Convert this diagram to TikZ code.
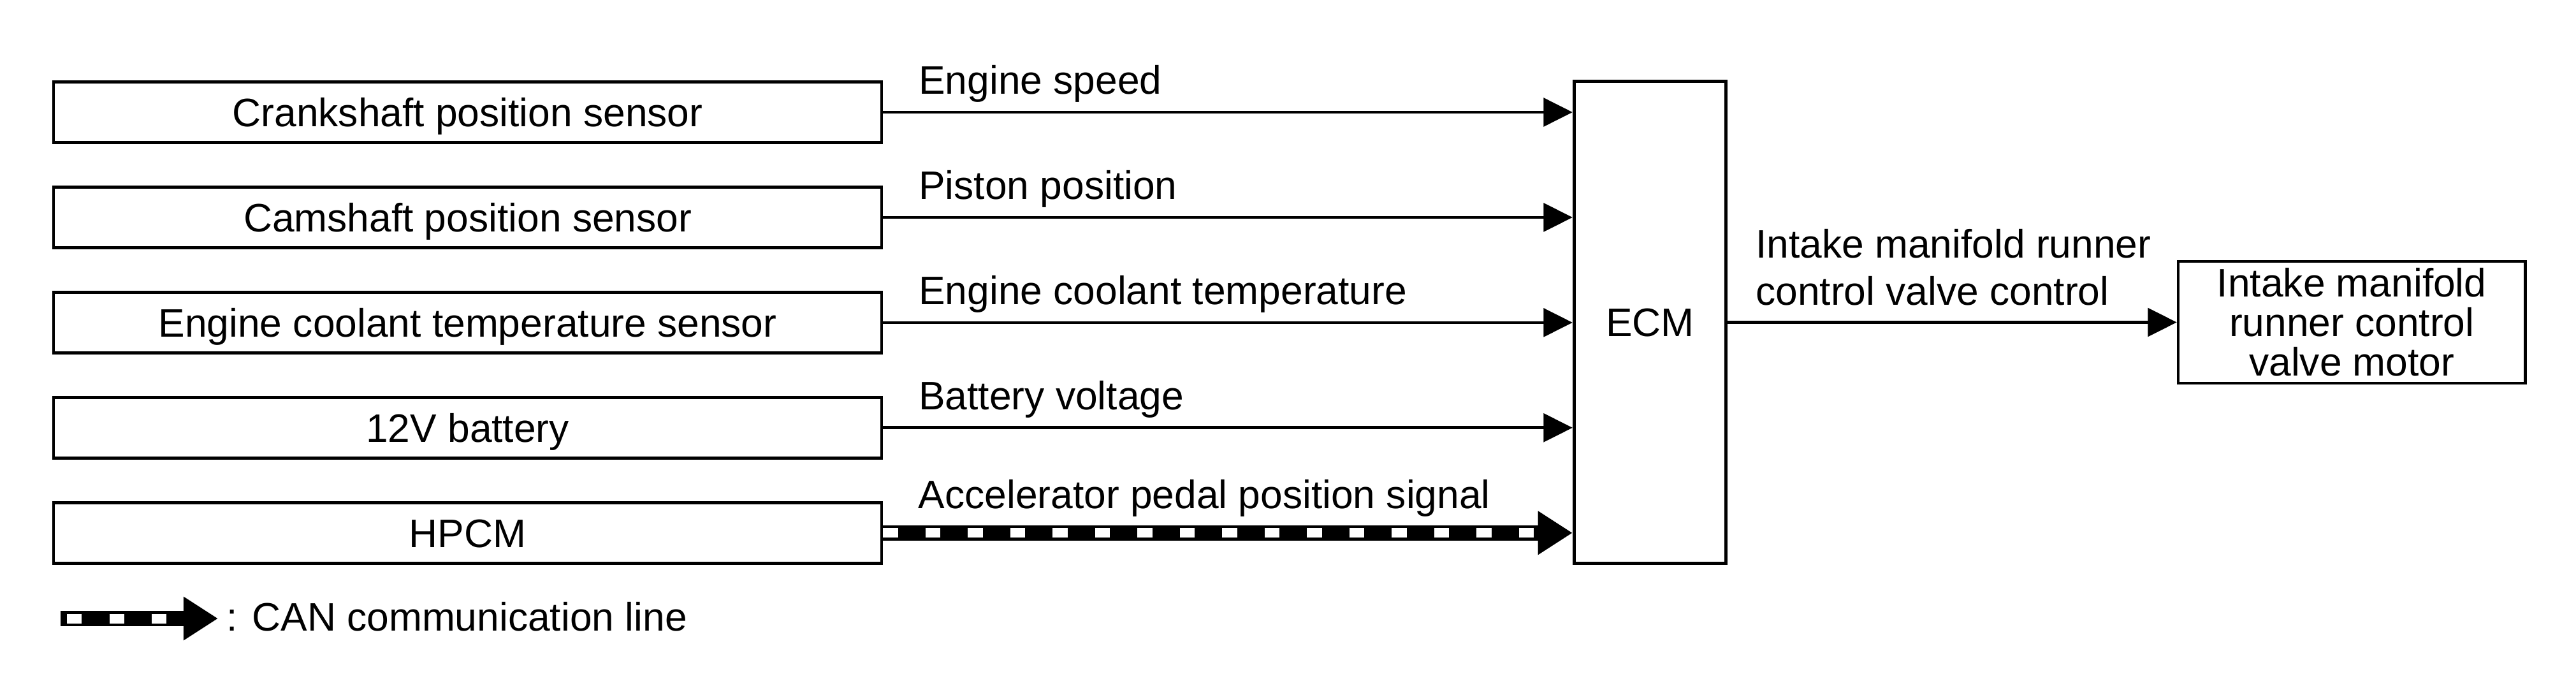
\documentclass[tikz,border=0pt]{standalone}
\usepackage{fontspec}
\setmainfont{Liberation Sans}
\usepackage{tikz}
\usetikzlibrary{arrows.meta}
\newcommand{\diafont}{\fontsize{17.2pt}{17.1pt}\selectfont}
\tikzstyle{sensor} = [rectangle, minimum width=12.6cm, minimum height=0.92cm, text height=12.3pt, text depth=0pt, inner sep=0pt, text centered, draw=black, line width=1.3pt, font=\diafont]
\tikzstyle{ecu} = [rectangle, minimum width=2.31cm, minimum height=7.33cm, text height=12.3pt, text depth=0pt, inner sep=0pt, text centered, draw=black, line width=1.3pt, font=\diafont]
\tikzstyle{actuator} = [rectangle, minimum width=5.28cm, minimum height=1.85cm, inner sep=0pt, align=center, draw=black, line width=1.3pt, font=\diafont]
\tikzstyle{signal} = [pos=0, anchor=base west, inner sep=0pt, xshift=5.2mm, yshift=2.72mm, font=\diafont]
\tikzstyle{arrow} = [line width=1.3pt, -{Triangle[length=4.4mm, width=4.3mm]}]
\tikzstyle{canbar} = [line width=2.33mm, -{Triangle[length=5.25mm, width=6.3mm]}]
\tikzstyle{candash} = [draw=white, line width=1.45mm, dash pattern=on 2.25mm off 4.2mm]

\begin{document}
\begin{tikzpicture}[x=0.25mm, y=-0.25mm, node distance=1.6cm]
		\useasboundingbox (0,0) rectangle (1568,422.6);
		\node (crank) [sensor] at (284.65,68.3) {Crankshaft position sensor};
		\node (cam) [sensor, below of=crank] {Camshaft position sensor};
		\node (ect) [sensor, below of=cam] {Engine coolant temperature sensor};
		\node (batt) [sensor, below of=ect] {12V battery};
		\node (hpcm) [sensor, below of=batt] {HPCM};
		
		\node (ecm) [ecu] at (1004.3,196.15) {ECM};
		\node (motor) [actuator, right of=ecm, xshift=9.08cm] {Intake manifold\\runner control\\valve motor};
		
		\draw [arrow] (crank) -- node [signal] {Engine speed} (ecm.west |- crank);
		\draw [arrow] (cam) -- node [signal] {Piston position} (ecm.west |- cam);
		\draw [arrow] (ect) -- node [signal] {Engine coolant temperature} (ecm.west |- ect);
		\draw [arrow] (batt) -- node [signal] {Battery voltage} (ecm.west |- batt);
		
		% CAN line: black bar, white squares on top
		\draw [canbar] (hpcm) -- node [signal, xshift=-1mm, yshift=1.03mm] {Accelerator pedal position signal} (ecm.west |- hpcm);
		\draw [candash, shorten >=5.25mm] (hpcm) -- (ecm.west |- hpcm);
		
		\draw [arrow] (ecm) -- node [pos=0, anchor=south west, inner sep=0pt, xshift=4.1mm, yshift=2.38mm, align=left, font=\fontsize{17.2pt}{20.3pt}\selectfont] {Intake manifold runner\\control valve control} (motor);
		
		% legend
		\coordinate (canleg) at (37,376.4);
		\node (cantext) [anchor=base west, inner sep=0pt, font=\diafont] at (137.5,384) {: CAN communication line};
		\draw [canbar, shorten >=1.2mm] (canleg) -- (canleg -| cantext.west);
		\draw [candash, dash phase=5.5mm, shorten >=6.45mm] (canleg) -- (canleg -| cantext.west);
		\end{tikzpicture}
\end{document}
